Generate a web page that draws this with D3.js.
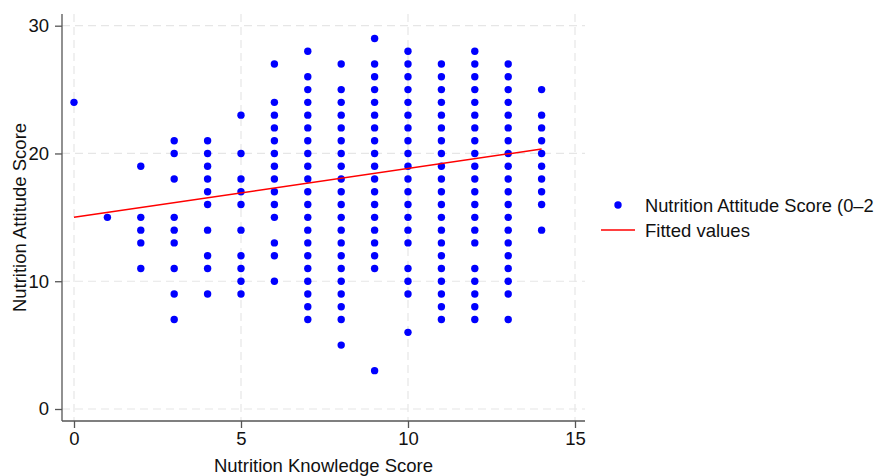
<!DOCTYPE html>
<meta charset="utf-8">
<style>
body { margin: 0; background: #fff; }
svg text { font-family: "Liberation Sans", Arial, sans-serif; fill: #111; }
.grid line { stroke: #e6e6e6; stroke-width: 1.2; stroke-dasharray: 8 5; }
.axis path, .axis line { stroke: #555; stroke-width: 1.3; }
</style>
<svg class="chart"></svg>
<script src="https://d3js.org/d3.v7.min.js"></script>
<script>

// knowledge score (x) and the distinct attitude scores seen at each one
var knowledge = [0, 1, 2, 3, 4, 5, 6, 7, 8, 9, 10, 11, 12, 13, 14];
var attitude = [
  [24],
  [15],
  [19, 15, 14, 13, 11],
  [21, 20, 18, 15, 14, 13, 11, 9, 7],
  [21, 20, 19, 18, 17, 16, 14, 12, 11, 9],
  [23, 20, 18, 17, 16, 14, 12, 11, 10, 9],
  [27, 24, 23, 22, 21, 20, 19, 18, 17, 16, 15, 13, 12, 10],
  [28, 26, 25, 24, 23, 22, 21, 20, 19, 18, 17, 16, 15, 14, 13, 12, 11, 10, 9, 8, 7],
  [27, 25, 24, 23, 22, 21, 20, 19, 18, 17, 16, 15, 14, 13, 12, 11, 10, 9, 8, 7, 5],
  [29, 27, 26, 25, 24, 23, 22, 21, 20, 19, 18, 17, 16, 15, 14, 13, 12, 11, 3],
  [28, 27, 26, 25, 24, 23, 22, 21, 20, 19, 18, 17, 16, 15, 14, 13, 11, 10, 9, 6],
  [27, 26, 25, 24, 23, 22, 21, 20, 19, 18, 17, 16, 15, 14, 13, 12, 11, 10, 9, 8, 7],
  [28, 27, 26, 25, 24, 23, 22, 21, 20, 19, 18, 17, 16, 15, 14, 13, 11, 10, 9, 8, 7],
  [27, 26, 25, 24, 23, 22, 21, 20, 19, 18, 17, 16, 15, 14, 13, 12, 11, 10, 9, 7],
  [25, 23, 22, 21, 20, 19, 18, 17, 16, 14]
];
var fitX = [0, 14];
var fitY = [15.0, 20.35];
var xTicks = [0, 5, 10, 15];
var yTicks = [0, 10, 20, 30];

var width = 877,
    height = 476;

var x = d3.scaleLinear().domain([0, 15]).range([74, 575]);
var y = d3.scaleLinear().domain([0, 30]).range([409, 25.7]);

var plotLeft = 62, plotRight = 585, plotTop = 14, plotBottom = 421;

var svg = d3.select(".chart")
    .attr("width", width)
    .attr("height", height);

var points = [];
knowledge.forEach(function(k, i) {
  attitude[i].forEach(function(a) { points.push({k: k, a: a}); });
});

// grid
var grid = svg.append("g").attr("class", "grid");
grid.selectAll(".gy").data(yTicks).enter().append("line")
    .attr("x1", plotLeft).attr("x2", plotRight)
    .attr("y1", y).attr("y2", y);
grid.selectAll(".gx").data(xTicks).enter().append("line")
    .attr("y1", plotTop).attr("y2", plotBottom)
    .attr("x1", x).attr("x2", x);

// axes
var xAxis = svg.append("g").attr("class", "axis")
    .attr("transform", "translate(0," + plotBottom + ")")
    .call(d3.axisBottom(x).tickValues(xTicks).tickSizeOuter(0).tickSizeInner(7).tickPadding(4));
xAxis.select(".domain").attr("d", "M" + plotLeft + ",0H" + plotRight);

var yAxis = svg.append("g").attr("class", "axis")
    .attr("transform", "translate(" + plotLeft + ",0)")
    .call(d3.axisLeft(y).tickValues(yTicks).tickSizeOuter(0).tickSizeInner(7).tickPadding(6));
yAxis.select(".domain").attr("d", "M0," + plotTop + "V" + plotBottom);

svg.selectAll(".axis text").style("font-size", "18.5px").style("fill", "#111");

// points
svg.append("g").selectAll("circle")
    .data(points)
  .enter().append("circle")
    .attr("cx", function(d) { return x(d.k); })
    .attr("cy", function(d) { return y(d.a); })
    .attr("r", 3.7)
    .attr("fill", "#0000ff");

// fitted line
svg.append("path")
    .datum(d3.zip(fitX, fitY))
    .attr("fill", "none")
    .attr("stroke", "#ff0000")
    .attr("stroke-width", 1.5)
    .attr("d", d3.line().x(function(d) { return x(d[0]); }).y(function(d) { return y(d[1]); }));

// axis titles
svg.append("text")
    .attr("x", (plotLeft + plotRight) / 2).attr("y", 472)
    .attr("text-anchor", "middle")
    .style("font-size", "18.5px")
    .text("Nutrition Knowledge Score");

svg.append("text")
    .attr("transform", "translate(26," + ((plotTop + plotBottom) / 2) + ") rotate(-90)")
    .attr("text-anchor", "middle")
    .style("font-size", "18.5px")
    .text("Nutrition Attitude Score");

// legend (label shown as far as the reference shows it)
var legend = svg.append("g");
legend.append("circle")
    .attr("cx", 618).attr("cy", 205).attr("r", 3.7).attr("fill", "#0000ff");
legend.append("text")
    .attr("x", 645).attr("y", 212)
    .style("font-size", "18.3px")
    .text("Nutrition Attitude Score (0–2");
legend.append("line")
    .attr("x1", 601).attr("x2", 635).attr("y1", 230).attr("y2", 230)
    .attr("stroke", "#ff0000").attr("stroke-width", 1.5);
legend.append("text")
    .attr("x", 645).attr("y", 237)
    .style("font-size", "18.5px")
    .text("Fitted values");

</script>
